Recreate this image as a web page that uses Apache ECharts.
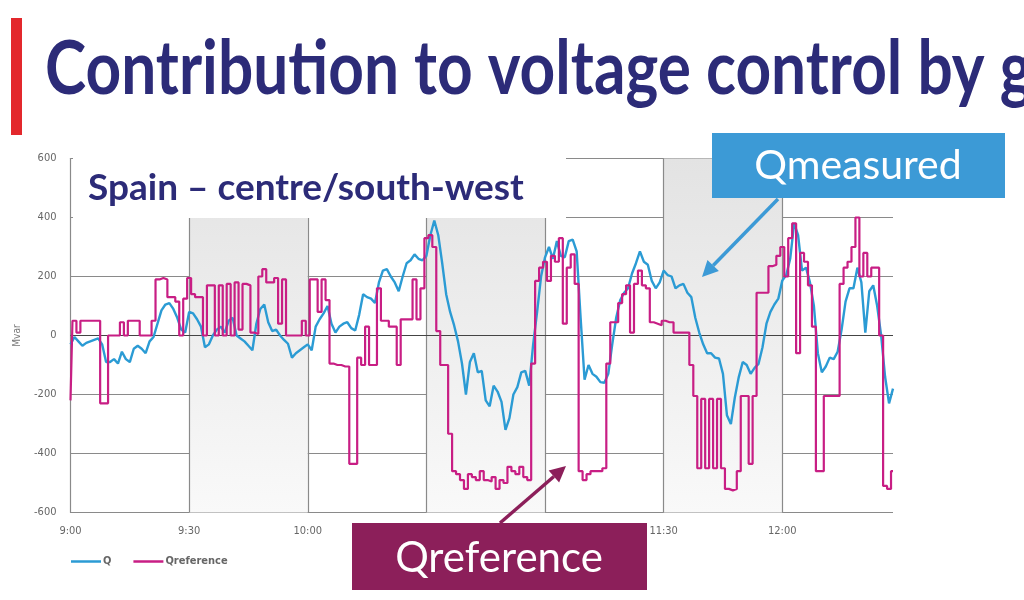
<!DOCTYPE html>
<html>
<head>
<meta charset="utf-8">
<script src="https://cdn.jsdelivr.net/npm/echarts@6/dist/echarts.min.js"></script>
<style>
  html, body { margin: 0; padding: 0; background: #fff; }
  #chart { width: 1024px; height: 600px; }
</style>
</head>
<body>
<div id="chart"></div>
<script>
// one sample per minute, starting at 9:00
const qMeasured = [
  -30, -5, -20, -35, -25, -20, -15, -10, -30, -90,
  -90, -80, -95, -55, -80, -90, -45, -35, -45, -60,
  -20, -5, 40, 85, 105, 110, 90, 60, 20, 10,
  80, 75, 55, 30, -40, -30, 0, 20, 30, 10,
  50, 60, 0, -10, -20, -35, -50, 40, 90, 105,
  45, 15, 20, 0, -15, -28, -75, -60, -50, -40,
  -30, -50, 30, 55, 75, 100, 40, 10, 30, 40,
  45, 25, 17, 70, 140, 130, 125, 110, 180, 220,
  225, 200, 180, 150, 200, 245, 255, 275, 260, 255,
  270, 340, 390, 340, 245, 140, 80, 35, -20, -95,
  -200, -90, -60, -125, -120, -220, -240, -170, -190, -225,
  -320, -280, -200, -175, -125, -120, -170, -30, 80, 200,
  265, 300, 260, 320, 270, 265, 320, 325, 285, 60,
  -150, -100, -130, -140, -158, -160, -130, -30, 60, 119,
  145, 160, 210, 245, 285, 250, 240, 185, 160, 180,
  220, 205, 200, 160, 170, 175, 145, 130, 60, 10,
  -30, -60, -60, -75, -78, -130, -270, -300, -210, -141,
  -90, -100, -130, -110, -96, -40, 40, 80, 105, 125,
  186, 205, 260, 380, 340, 220, 230, 180, 100, -60,
  -125, -105, -75, -80, -55, 20, 115, 160, 160, 230,
  180, 10, 150, 170, 100, 0, -140, -230, -180
];
const qReference = [
  -220, 50, 10, 50, 50, 50, 50, 50, -230, -230,
  0, 0, 0, 45, 0, 50, 50, 50, 0, 0,
  0, 50, 190, 195, 190, 130, 130, 115, 0, 125,
  195, 140, 130, 130, 0, 170, 170, 0, 170, 0,
  175, 0, 180, 20, 175, 170, 10, 5, 200, 225,
  180, 180, 195, 40, 190, 0, 0, 0, 0, 50,
  0, 190, 190, 80, 190, 120, -95, -100, -100, -105,
  -105, -435, -435, -75, -100, 30, -100, -100, 160, 50,
  50, 30, 30, -100, 55, 55, 55, 190, 55, 160,
  330, 340, 300, 15, -100, -100, -333, -460, -470, -490,
  -520, -470, -480, -490, -460, -490, -495, -480, -520, -490,
  -500, -445, -460, -470, -445, -480, -490, -95, 185, 230,
  250, 185, 270, 250, 330, 40, 230, 275, 175, -460,
  -490, -470, -460, -460, -460, -450, -95, 45, 45, 110,
  140, 170, 10, 175, 220, 170, 160, 45, 40, 35,
  50, 45, 45, 10, 10, 10, 10, -100, -205, -450,
  -215, -450, -215, -450, -215, -450, -520, -525, -520, -460,
  -205, -205, -435, -205, 145, 145, 145, 235, 240, 270,
  300, 200, 330, 380, -60, 280, 250, 170, 30, -460,
  -460, -205, -205, -205, -205, 175, 230, 250, 300, 400,
  200, 280, 200, 230, 230, 0, -510, -520, -460
];
const seriesNames = ['Q', 'Qreference'];
const timeTicks = [0, 30, 60, 90, 120, 150, 180];   // minutes after 9:00
const shadedSpans = [[30, 60], [90, 120], [150, 180]];

const BLUE = '#2b9bd4';
const MAGENTA = '#c81e84';
const NAVY = '#2c2b78';
const narrow = "'DejaVu Sans Condensed', 'Liberation Sans Narrow', 'DejaVu Sans', sans-serif";

function clock(min) {
  const h = 9 + Math.floor(min / 60);
  const m = min % 60;
  return h + ':' + (m < 10 ? '0' + m : m);
}

function arrow(x1, y1, x2, y2, color) {
  const ang = Math.atan2(y2 - y1, x2 - x1);
  const len = 16, half = 8;
  const bx = x2 - len * Math.cos(ang), by = y2 - len * Math.sin(ang);
  const px = -Math.sin(ang) * half, py = Math.cos(ang) * half;
  return [
    { type: 'line', z: 100, shape: { x1: x1, y1: y1, x2: bx, y2: by },
      style: { stroke: color, lineWidth: 3.5 } },
    { type: 'polygon', z: 100, shape: { points: [[x2, y2], [bx + px, by + py], [bx - px, by - py]] },
      style: { fill: color } }
  ];
}

const chart = echarts.init(document.getElementById('chart'));

chart.setOption({
  animation: false,
  backgroundColor: '#fff',
  grid: { left: 70.5, right: 131, top: 158.5, bottom: 87.5 },
  legend: {
    data: seriesNames,
    left: 66, top: 551,
    icon: 'rect', itemWidth: 30, itemHeight: 2.5, itemGap: 22,
    textStyle: { fontFamily: narrow, fontWeight: 'bold', fontSize: 11, color: '#666', padding: [0, 0, 0, -3] }
  },
  xAxis: {
    type: 'value', min: 0, max: 208, interval: 30,
    axisLine: { show: false },
    axisTick: { show: false },
    splitLine: { show: false },
    axisLabel: {
      showMaxLabel: false, margin: 13,
      fontFamily: narrow, fontSize: 11, color: '#666',
      formatter: v => clock(v)
    }
  },
  yAxis: {
    type: 'value', min: -600, max: 600, interval: 200,
    name: 'Mvar', nameLocation: 'middle', nameGap: 48, nameRotate: 90,
    nameTextStyle: { fontFamily: narrow, fontSize: 10, color: '#777' },
    axisLine: { show: true, lineStyle: { color: '#8a8a8a', width: 1.2 } },
    axisTick: { show: false },
    axisLabel: { margin: 14, fontFamily: narrow, fontSize: 11, color: '#666' },
    splitLine: { lineStyle: { color: '#8a8a8a', width: 1.2 } }
  },
  series: [
    {
      name: seriesNames[0], type: 'line', showSymbol: false, symbol: 'none',
      data: qMeasured.map((v, i) => [i, v]),
      lineStyle: { color: BLUE, width: 2.4 }, itemStyle: { color: BLUE },
      markArea: {
        silent: true,
        itemStyle: {
          color: new echarts.graphic.LinearGradient(0, 0, 0, 1, [
            { offset: 0, color: '#e3e3e3' }, { offset: 1, color: '#f9f9f9' }
          ])
        },
        data: shadedSpans.map(s => [{ xAxis: s[0] }, { xAxis: s[1] }])
      },
      markLine: {
        silent: true, symbol: 'none', z: 1,
        label: { show: false },
        lineStyle: { color: '#8a8a8a', width: 1.2, type: 'solid' },
        data: timeTicks.slice(1).map(t => ({ xAxis: t }))
          .concat([{ yAxis: 0, lineStyle: { color: '#444', width: 1.2, type: 'solid' } }])
      }
    },
    {
      name: seriesNames[1], type: 'line', showSymbol: false, symbol: 'none', step: 'middle',
      data: qReference.map((v, i) => [i, v]),
      lineStyle: { color: MAGENTA, width: 2.2 }, itemStyle: { color: MAGENTA }
    }
  ],
  graphic: [
    { type: 'rect', z: 100, shape: { x: 11, y: 18, width: 11, height: 117 }, style: { fill: '#e3282c' } },
    { type: 'text', z: 100, x: 45, y: 70, scaleX: 0.84,
      style: { text: 'Contribution to voltage control by g', fill: NAVY,
        font: 'bold 74px Lato', verticalAlign: 'middle' } },
    { type: 'rect', z: 90, shape: { x: 73, y: 150, width: 493, height: 68 }, style: { fill: '#fff' } },
    { type: 'text', z: 100, x: 88, y: 188,
      style: { text: 'Spain – centre/south-west', fill: NAVY,
        font: 'bold 37px Lato', verticalAlign: 'middle' } },
    { type: 'rect', z: 100, shape: { x: 712, y: 133, width: 293, height: 65 }, style: { fill: '#3c9ad6' } },
    { type: 'text', z: 101, x: 858, y: 166,
      style: { text: 'Qmeasured', fill: '#fff', font: '41px Lato', align: 'center', verticalAlign: 'middle' } },
    { type: 'rect', z: 100, shape: { x: 352, y: 523, width: 295, height: 67 }, style: { fill: '#8c1f5a' } },
    { type: 'text', z: 101, x: 499, y: 558,
      style: { text: 'Qreference', fill: '#fff', font: '42px Lato', align: 'center', verticalAlign: 'middle' } }
  ].concat(arrow(778, 199, 702, 277, '#3c9ad6'))
   .concat(arrow(500, 523, 566, 466, '#8c1f5a'))
});
</script>
</body>
</html>
